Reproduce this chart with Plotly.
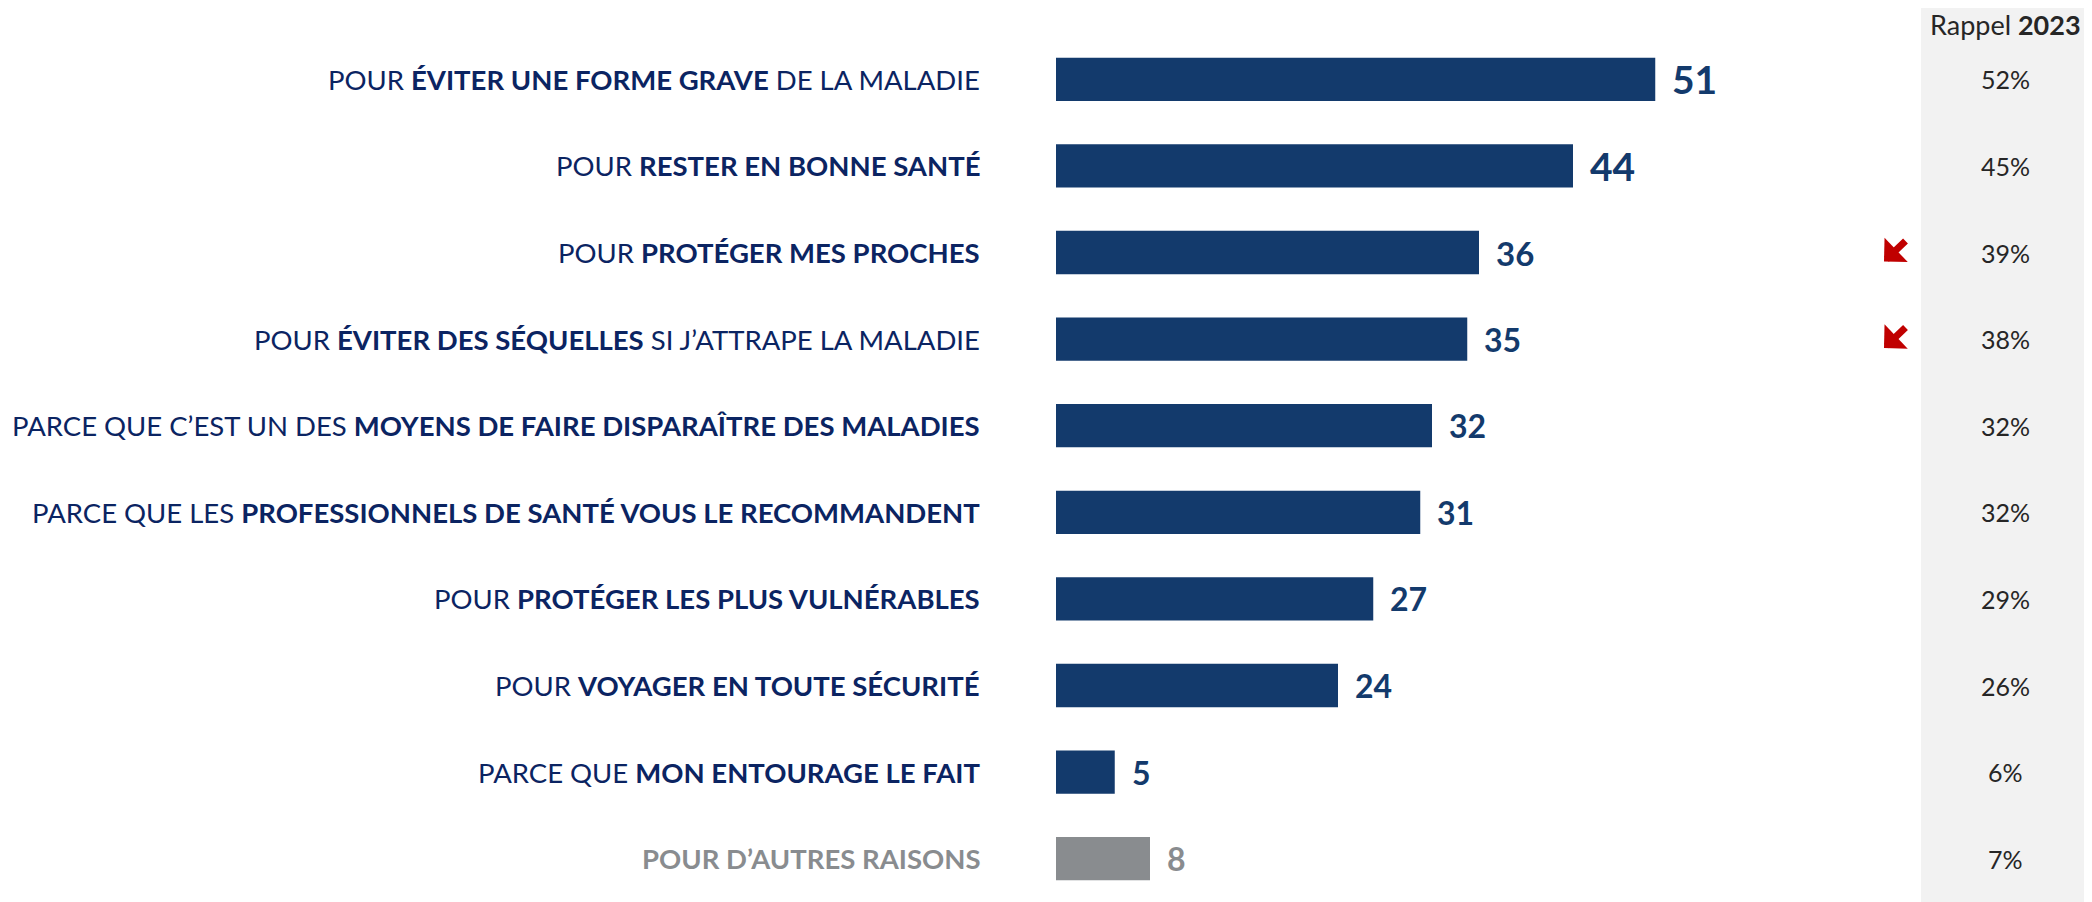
import plotly.graph_objects as go

labels_plain_pre = ["POUR ", "POUR ", "POUR ", "POUR ", "PARCE QUE C’EST UN DES ",
                    "PARCE QUE LES ", "POUR ", "POUR ", "PARCE QUE ", ""]
labels_bold = ["ÉVITER UNE FORME GRAVE", "RESTER EN BONNE SANTÉ", "PROTÉGER MES PROCHES",
               "ÉVITER DES SÉQUELLES", "MOYENS DE FAIRE DISPARAÎTRE DES MALADIES",
               "PROFESSIONNELS DE SANTÉ VOUS LE RECOMMANDENT", "PROTÉGER LES PLUS VULNÉRABLES",
               "VOYAGER EN TOUTE SÉCURITÉ", "MON ENTOURAGE LE FAIT", "POUR D’AUTRES RAISONS"]
labels_plain_post = [" DE LA MALADIE", "", "", " SI J’ATTRAPE LA MALADIE", "", "", "", "", "", ""]
values_2024 = [51, 44, 36, 35, 32, 31, 27, 24, 5, 8]
rappel_2023 = [52, 45, 39, 38, 32, 32, 29, 26, 6, 7]
sig_down = [False, False, True, True, False, False, False, False, False, False]
is_other = [False] * 9 + [True]

NAVY = "#133A6C"
LABEL_NAVY = "#0B2462"
GREY = "#898C8F"
FONT = "Lato"

cats = [f"c{i}" for i in range(len(values_2024))]
bar_colors = [GREY if o else NAVY for o in is_other]

# page has an 8px body margin: size the figure to fill the 2092x902 window exactly
W, H = 2084, 894
L, T, B = 1048, 28, 0
panel_x = 1913
R = W - panel_x
plot_w = W - L - R
plot_h = H - T - B
px_per_unit = 11.75
xmax = plot_w / px_per_unit
pct_x = 1.0 + (1997 - panel_x) / plot_w

fig = go.Figure()
fig.add_trace(go.Bar(
    y=cats, x=values_2024, orientation="h",
    marker=dict(color=bar_colors, line=dict(width=0)),
    hoverinfo="skip", showlegend=False,
))

fig.update_layout(
    width=W, height=H,
    margin=dict(l=L, r=R, t=T, b=B),
    paper_bgcolor="white", plot_bgcolor="white",
    bargap=0.5,
    xaxis=dict(range=[0, xmax], visible=False, fixedrange=True),
    yaxis=dict(categoryorder="array", categoryarray=cats,
               range=[len(cats) - 0.5, -0.5], visible=False),
    font=dict(family=FONT),
)

# gray recall panel
fig.add_shape(type="rect", xref="paper", yref="paper",
              x0=1.0, x1=1.0 + (R + 20) / plot_w, y0=-0.1, y1=1.1,
              fillcolor="#F2F2F2", line=dict(width=0), layer="below")

annotations = []
val_sizes = [39, 39, 33, 32, 32, 32, 32, 32, 32, 32]
for i, c in enumerate(cats):
    if is_other[i]:
        txt = f"<span style='color:{GREY}'><b>{labels_bold[i]}</b></span>"
        vcol = GREY
    else:
        txt = f"{labels_plain_pre[i]}<b>{labels_bold[i]}</b>{labels_plain_post[i]}"
        vcol = NAVY
    annotations.append(dict(
        x=-74 / plot_w, xref="paper", y=c, yref="y", text=txt, showarrow=False,
        xanchor="right", yanchor="middle",
        font=dict(family=FONT, size=27.5, color=LABEL_NAVY)))
    annotations.append(dict(
        x=values_2024[i], xref="x", y=c, yref="y", text=f"<b>{values_2024[i]}</b>",
        showarrow=False, xanchor="left", yanchor="middle", xshift=15,
        font=dict(family=FONT, size=val_sizes[i], color=vcol)))
    annotations.append(dict(
        x=pct_x, xref="paper", y=c, yref="y",
        text=f"{rappel_2023[i]}%", showarrow=False, xanchor="center", yanchor="middle",
        font=dict(family=FONT, size=25, color="#262626")))
    if sig_down[i]:
        annotations.append(dict(
            x=1.0 - 37 / plot_w, xref="paper", y=c, yref="y", yshift=-9,
            ax=23, ay=-22, axref="pixel", ayref="pixel", text="",
            showarrow=True, arrowhead=1, arrowsize=0.8, arrowwidth=7,
            arrowcolor="#C00000"))

annotations.append(dict(
    x=pct_x, xref="paper", y=1.0 + 11 / plot_h, yref="paper",
    text="Rappel <b>2023</b>", showarrow=False, xanchor="center", yanchor="middle",
    font=dict(family=FONT, size=27, color="#262626")))

fig.update_layout(annotations=annotations)
fig.write_html("out.html")
